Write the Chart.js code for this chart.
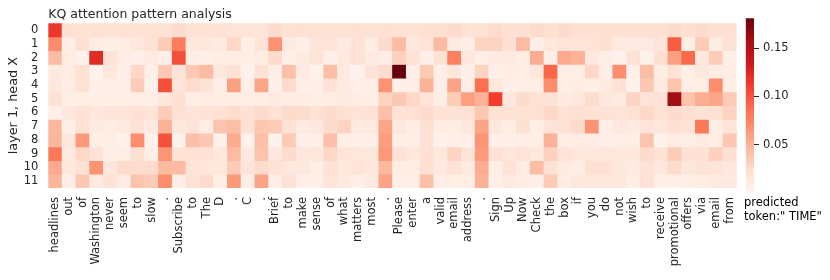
<!DOCTYPE html>
<html>
<head>
<meta charset="utf-8">
<script src="https://cdn.jsdelivr.net/npm/chart.js@4/dist/chart.umd.min.js"></script>
<style>
  html, body { margin: 0; padding: 0; background: #fff; }
  #wrap { position: relative; width: 830px; height: 280px; }
  #heat { position: absolute; left: 0; top: 0; }
  #cbar { position: absolute; left: 740px; top: 0; }
  #pred {
    position: absolute; left: 744px; top: 196px;
    font: 11.5px "DejaVu Sans", sans-serif; line-height: 13.5px; color: #000;
    white-space: nowrap;
  }
</style>
</head>
<body>
<div id="wrap">
  <canvas id="heat" width="830" height="280"></canvas>
  <canvas id="cbar" width="90" height="280"></canvas>
  <div id="pred">predicted<br>token:" TIME"</div>
</div>
<script>
/* tokens on the x axis */
const TOKENS = [
  "headlines", "out", "of", "Washington", "never", "seem", "to", "slow", ".",
  "Subscribe", "to", "The", "D", ".", "C", ".", "Brief", "to", "make", "sense",
  "of", "what", "matters", "most", ".", "Please", "enter", "a", "valid", "email",
  "address", ".", "Sign", "Up", "Now", "Check", "the", "box", "if", "you", "do",
  "not", "wish", "to", "receive", "promotional", "offers", "via", "email", "from"
];

const HEAD_LABELS = ["0", "1", "2", "3", "4", "5", "6", "7", "8", "9", "10", "11"];

/* attention weights per head (one value per token) */
const HEAD_0 = [0.115, 0.022, 0.02, 0.022, 0.02, 0.02, 0.02, 0.02, 0.02, 0.025, 0.02, 0.02, 0.02,
  0.018, 0.018, 0.018, 0.025, 0.02, 0.022, 0.02, 0.02, 0.02, 0.022, 0.02, 0.022, 0.02,
  0.02, 0.022, 0.022, 0.025, 0.02, 0.02, 0.025, 0.022, 0.022, 0.025, 0.022, 0.025,
  0.022, 0.022, 0.022, 0.022, 0.022, 0.022, 0.022, 0.025, 0.022, 0.025, 0.022, 0.022];
const HEAD_1 = [0.072, 0.008, 0.022, 0.01, 0.008, 0.01, 0.015, 0.02, 0.035, 0.08, 0.015, 0.015, 0.012,
  0.028, 0.008, 0.018, 0.068, 0.012, 0.006, 0.018, 0.018, 0.012, 0.02, 0.01, 0.025, 0.045,
  0.015, 0.018, 0.045, 0.012, 0.008, 0.03, 0.03, 0.022, 0.045, 0.008, 0.015, 0.018,
  0.018, 0.018, 0.022, 0.012, 0.012, 0.012, 0.018, 0.097, 0.008, 0.035, 0.01, 0.02];
const HEAD_2 = [0.045, 0.01, 0.004, 0.123, 0.02, 0.01, 0.006, 0.012, 0.006, 0.103, 0.008, 0.006, 0.01,
  0.01, 0.008, 0.01, 0.025, 0.006, 0.012, 0.018, 0.006, 0.015, 0.02, 0.012, 0.01, 0.032,
  0.02, 0.006, 0.02, 0.078, 0.015, 0.008, 0.012, 0.012, 0.01, 0.053, 0.006, 0.055,
  0.05, 0.015, 0.008, 0.004, 0.02, 0.004, 0.022, 0.06, 0.09, 0.015, 0.035, 0.006];
const HEAD_3 = [0.012, 0.01, 0.022, 0.004, 0.015, 0.006, 0.028, 0.006, 0.038, 0.018, 0.037, 0.045, 0.015,
  0.02, 0.004, 0.02, 0.008, 0.042, 0.012, 0.004, 0.043, 0.012, 0.004, 0.018, 0.025, 0.181,
  0.006, 0.036, 0.006, 0.015, 0.006, 0.03, 0.006, 0.01, 0.008, 0.015, 0.092, 0.008,
  0.008, 0.028, 0.008, 0.07, 0.006, 0.043, 0.01, 0.02, 0.008, 0.015, 0.01, 0.01];
const HEAD_4 = [0.015, 0.01, 0.02, 0.006, 0.008, 0.006, 0.035, 0.004, 0.103, 0.018, 0.025, 0.02, 0.008,
  0.06, 0.006, 0.057, 0.006, 0.025, 0.006, 0.006, 0.02, 0.012, 0.006, 0.006, 0.068, 0.006,
  0.008, 0.05, 0.006, 0.058, 0.008, 0.087, 0.015, 0.006, 0.008, 0.008, 0.07, 0.008,
  0.01, 0.008, 0.012, 0.02, 0.004, 0.037, 0.012, 0.04, 0.008, 0.008, 0.07, 0.008];
const HEAD_5 = [0.02, 0.008, 0.008, 0.008, 0.008, 0.008, 0.008, 0.008, 0.015, 0.022, 0.008, 0.01, 0.01,
  0.01, 0.008, 0.01, 0.012, 0.01, 0.01, 0.008, 0.01, 0.012, 0.01, 0.008, 0.03, 0.037,
  0.028, 0.018, 0.008, 0.035, 0.06, 0.05, 0.112, 0.015, 0.025, 0.02, 0.02, 0.012,
  0.015, 0.025, 0.015, 0.012, 0.03, 0.018, 0.02, 0.16, 0.04, 0.053, 0.057, 0.035];
const HEAD_6 = [0.006, 0.015, 0.02, 0.015, 0.018, 0.018, 0.022, 0.018, 0.034, 0.022, 0.018, 0.02, 0.022,
  0.025, 0.022, 0.025, 0.02, 0.025, 0.025, 0.022, 0.025, 0.022, 0.018, 0.02, 0.042, 0.02,
  0.022, 0.025, 0.02, 0.02, 0.02, 0.037, 0.022, 0.02, 0.02, 0.022, 0.028, 0.02,
  0.022, 0.02, 0.02, 0.018, 0.022, 0.028, 0.02, 0.025, 0.022, 0.02, 0.022, 0.03];
const HEAD_7 = [0.047, 0.006, 0.02, 0.012, 0.01, 0.012, 0.02, 0.012, 0.05, 0.015, 0.018, 0.01, 0.04,
  0.043, 0.022, 0.038, 0.035, 0.02, 0.012, 0.015, 0.025, 0.03, 0.012, 0.012, 0.057, 0.015,
  0.01, 0.022, 0.01, 0.01, 0.015, 0.058, 0.015, 0.01, 0.022, 0.008, 0.018, 0.02,
  0.025, 0.067, 0.008, 0.015, 0.012, 0.018, 0.015, 0.022, 0.018, 0.082, 0.008, 0.018];
const HEAD_8 = [0.048, 0.015, 0.064, 0.008, 0.008, 0.004, 0.07, 0.004, 0.102, 0.004, 0.042, 0.037, 0.004,
  0.054, 0.004, 0.042, 0.004, 0.036, 0.006, 0.006, 0.042, 0.006, 0.006, 0.006, 0.062, 0.008,
  0.008, 0.02, 0.004, 0.006, 0.006, 0.066, 0.006, 0.006, 0.008, 0.008, 0.05, 0.008,
  0.01, 0.01, 0.006, 0.008, 0.008, 0.04, 0.004, 0.01, 0.008, 0.012, 0.008, 0.037];
const HEAD_9 = [0.082, 0.012, 0.028, 0.02, 0.008, 0.008, 0.022, 0.006, 0.066, 0.02, 0.02, 0.02, 0.015,
  0.045, 0.012, 0.04, 0.015, 0.025, 0.015, 0.015, 0.028, 0.018, 0.015, 0.015, 0.064, 0.02,
  0.015, 0.022, 0.015, 0.03, 0.018, 0.063, 0.02, 0.015, 0.018, 0.015, 0.032, 0.018,
  0.015, 0.015, 0.015, 0.015, 0.015, 0.025, 0.02, 0.035, 0.02, 0.02, 0.032, 0.022];
const HEAD_10 = [0.055, 0.015, 0.02, 0.067, 0.015, 0.025, 0.025, 0.025, 0.046, 0.045, 0.018, 0.015, 0.015,
  0.035, 0.018, 0.025, 0.02, 0.015, 0.015, 0.008, 0.02, 0.015, 0.018, 0.015, 0.046, 0.01,
  0.01, 0.022, 0.012, 0.02, 0.012, 0.053, 0.008, 0.02, 0.01, 0.044, 0.02, 0.012,
  0.01, 0.022, 0.022, 0.015, 0.012, 0.02, 0.015, 0.025, 0.015, 0.018, 0.018, 0.015];
const HEAD_11 = [0.048, 0.008, 0.038, 0.012, 0.02, 0.01, 0.04, 0.035, 0.07, 0.008, 0.02, 0.025, 0.008,
  0.064, 0.008, 0.058, 0.008, 0.02, 0.006, 0.006, 0.018, 0.012, 0.006, 0.012, 0.058, 0.006,
  0.008, 0.042, 0.006, 0.008, 0.008, 0.05, 0.006, 0.012, 0.01, 0.006, 0.035, 0.01,
  0.015, 0.015, 0.015, 0.015, 0.008, 0.02, 0.006, 0.006, 0.008, 0.01, 0.012, 0.012];

const HEADS = [HEAD_0, HEAD_1, HEAD_2, HEAD_3, HEAD_4, HEAD_5,
               HEAD_6, HEAD_7, HEAD_8, HEAD_9, HEAD_10, HEAD_11];

const VMIN = 0;
const VMAX = 0.181;
const CBAR_TICKS = [0.05, 0.10, 0.15];

/* matplotlib "Reds" */
const REDS = ["#fff5f0", "#fee0d2", "#fcbba1", "#fc9272", "#fb6a4a",
              "#ef3b2c", "#cb181d", "#a50f15", "#67000d"];

function hexToRgb(h) {
  return [1, 3, 5].map(i => parseInt(h.slice(i, i + 2), 16));
}

function redsColor(v) {
  let t = (v - VMIN) / (VMAX - VMIN);
  t = Math.max(0, Math.min(1, t));
  const pos = t * (REDS.length - 1);
  const i = Math.min(Math.floor(pos), REDS.length - 2);
  const f = pos - i;
  const a = hexToRgb(REDS[i]), b = hexToRgb(REDS[i + 1]);
  const c = a.map((x, k) => Math.round(x + (b[k] - x) * f));
  return `rgb(${c[0]},${c[1]},${c[2]})`;
}

const FONT = "'DejaVu Sans', sans-serif";
const TEXT = "#262626";

/* =====================================================
   HEATMAP
===================================================== */
const titlePlugin = {
  id: "leftTitle",
  afterDraw(chart) {
    const ctx = chart.ctx;
    ctx.save();
    ctx.font = `12.5px ${FONT}`;
    ctx.fillStyle = TEXT;
    ctx.textAlign = "left";
    ctx.textBaseline = "alphabetic";
    ctx.fillText("KQ attention pattern analysis", chart.chartArea.left, 17.5);
    ctx.restore();
  }
};

const datasets = HEADS.map((vals, r) => ({
  data: TOKENS.map(() => [r, r + 1]),
  backgroundColor: vals.map(redsColor),
  borderWidth: 0,
  grouped: false,
  barPercentage: 1,
  categoryPercentage: 1
}));

new Chart(document.getElementById("heat"), {
  type: "bar",
  data: { labels: TOKENS, datasets },
  plugins: [titlePlugin],
  options: {
    responsive: false,
    animation: false,
    layout: { padding: { left: 0, top: 23.3, right: 93.3, bottom: 0 } },
    plugins: { legend: { display: false }, tooltip: { enabled: false } },
    scales: {
      x: {
        grid: { display: false, drawTicks: false },
        border: { display: false },
        ticks: {
          autoSkip: false, maxRotation: 90, minRotation: 90,
          padding: 9, color: TEXT, font: { family: FONT, size: 11.5 }
        },
        afterFit(scale) { scale.height = 92; }
      },
      y: {
        reverse: true, min: 0, max: HEADS.length,
        grid: { display: false, drawTicks: false },
        border: { display: false },
        afterBuildTicks(scale) {
          scale.ticks = HEAD_LABELS.map((_, i) => ({ value: i + 0.5 }));
        },
        ticks: {
          autoSkip: false,
          padding: 10, color: TEXT, font: { family: FONT, size: 11.5 },
          callback: (v, i) => HEAD_LABELS[i]
        },
        title: {
          display: true, text: "layer 1, head X", color: TEXT,
          font: { family: FONT, size: 12.8 }, padding: { top: 6, bottom: 0 }
        },
        afterFit(scale) { scale.width = 48.3; }
      }
    }
  }
});

/* =====================================================
   COLORBAR
===================================================== */
function cbarGradient(context) {
  const { chart } = context;
  const area = chart.chartArea;
  if (!area) return REDS[4];
  const g = chart.ctx.createLinearGradient(0, area.bottom, 0, area.top);
  REDS.forEach((c, i) => g.addColorStop(i / (REDS.length - 1), c));
  return g;
}

new Chart(document.getElementById("cbar"), {
  type: "bar",
  data: {
    labels: [""],
    datasets: [{
      data: [[VMIN, VMAX]],
      backgroundColor: cbarGradient,
      borderWidth: 0,
      barPercentage: 1,
      categoryPercentage: 1
    }]
  },
  options: {
    responsive: false,
    animation: false,
    layout: { padding: { left: 5.7, top: 18.3, right: 0, bottom: 87 } },
    plugins: { legend: { display: false }, tooltip: { enabled: false } },
    scales: {
      x: { display: false },
      y: {
        position: "right", min: VMIN, max: VMAX,
        grid: { drawOnChartArea: false, drawTicks: true, tickLength: 5, color: TEXT, lineWidth: 1 },
        border: { display: false },
        afterBuildTicks(scale) {
          scale.ticks = CBAR_TICKS.map(v => ({ value: v }));
        },
        ticks: {
          padding: 4, color: TEXT, font: { family: FONT, size: 11.5 },
          callback: v => v.toFixed(2)
        },
        afterFit(scale) { scale.width = 76; }
      }
    }
  }
});
</script>
</body>
</html>
